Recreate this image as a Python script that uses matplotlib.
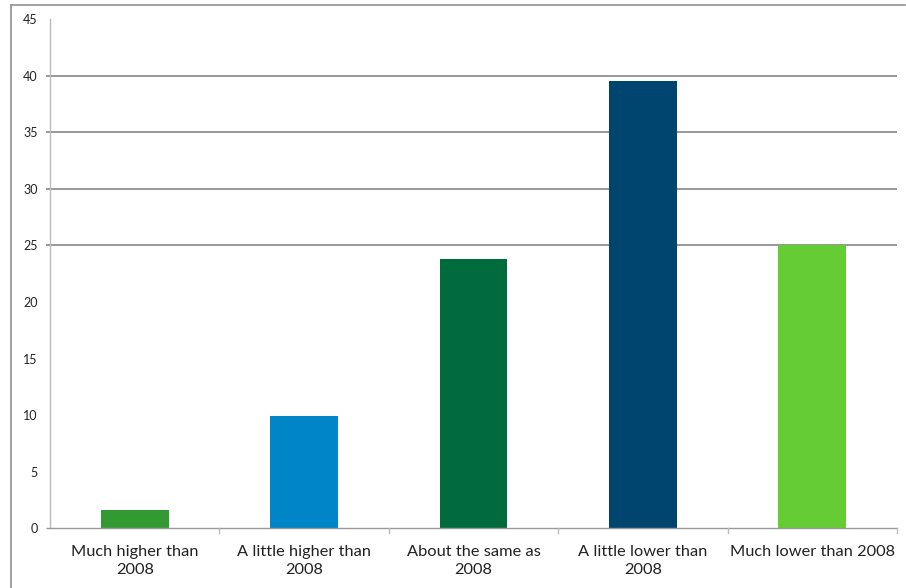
import matplotlib.pyplot as plt
from matplotlib.lines import Line2D

categories = ["Much higher than\n2008", "A little higher than\n2008", "About the same as\n2008",
              "A little lower than\n2008", "Much lower than 2008"]
values = [1.6, 9.9, 23.8, 39.5, 25.0]
colors = ["#339933", "#0085C8", "#006B3C", "#004470", "#66CC33"]
y_ticks = [0, 5, 10, 15, 20, 25, 30, 35, 40, 45]
grid_values = [25, 30, 35, 40]

plt.rcParams['font.family'] = ['Lato', 'DejaVu Sans']

fig = plt.figure(figsize=(9.06, 5.88), dpi=100)
ax = fig.add_axes([50 / 906, 1 - 528.3 / 588, 847 / 906, 509.3 / 588])

x = list(range(len(categories)))
ax.bar(x, values, width=0.4, color=colors, zorder=3)

# gridlines (only the upper ones are drawn in the original)
tick_ext = 4 / 169.4
ax.hlines(grid_values, -0.5 - tick_ext, 4.5, colors="#868686", linewidth=1.2, zorder=1, clip_on=False)
ax.hlines([0], -0.5 - tick_ext, 4.5, colors="#999999", linewidth=1.0, zorder=4, clip_on=False)

ax.set_xlim(-0.5, 4.5)
ax.set_ylim(0, 45)
ax.set_yticks(y_ticks)
ax.set_yticklabels([str(v) for v in y_ticks], fontsize=9, color="#222222")
ax.tick_params(axis='y', length=0, pad=9)

ax.set_xticks(x)
ax.set_xticklabels(categories, fontsize=11.8, color="#222222", linespacing=1.4)
ax.tick_params(axis='x', length=0, pad=12)

# category boundary ticks below the x axis
for b in [0.5, 1.5, 2.5, 3.5, 4.5]:
    ax.plot([b, b], [0, -0.4], color="#bbbbbb", linewidth=1.0, clip_on=False, zorder=4)

for side in ['top', 'right', 'bottom']:
    ax.spines[side].set_visible(False)
ax.spines['left'].set_color("#bbbbbb")
ax.spines['left'].set_linewidth(1.0)

# outer frame
fig.add_artist(Line2D([11 / 906, 11 / 906], [0, 1 - 5 / 588], color="#999999", linewidth=1.3))
fig.add_artist(Line2D([11 / 906, 905 / 906], [1 - 5 / 588, 1 - 5 / 588], color="#999999", linewidth=1.3))

fig.savefig("out.png", dpi=100)
